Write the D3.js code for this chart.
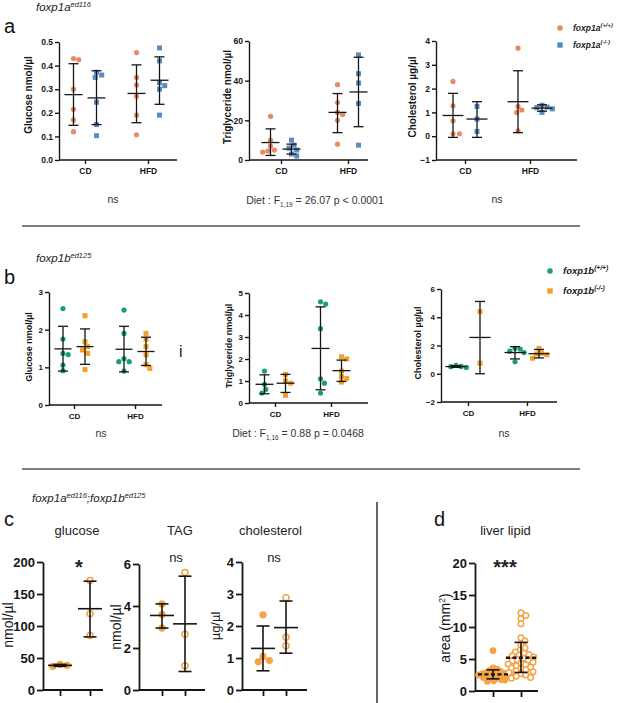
<!DOCTYPE html>
<html>
<head>
<meta charset="utf-8">
<script src="https://cdn.jsdelivr.net/npm/d3@7"></script>
<style>
  body { margin: 0; background: #fff; }
</style>
</head>
<body>
<script>
"use strict";

// ---- data ----
var groups = ["CD", "HFD"];
var pairs = ["ctrl", "mut"];

// a: foxp1a  (values per diet group: [CD], [HFD]); bars = [mean, lower SD, upper SD]
var aGluTicks = [0, 0.1, 0.2, 0.3, 0.4, 0.5];
var aGluWT = [[0.425, 0.43, 0.30, 0.215, 0.17, 0.12], [0.455, 0.35, 0.318, 0.27, 0.19, 0.107]];
var aGluKO = [[0.372, 0.35, 0.36, 0.245, 0.15, 0.103], [0.475, 0.42, 0.328, 0.30, 0.315, 0.19]];
var aGluBarWT = [[0.277, 0.147, 0.408], [0.282, 0.158, 0.403]];
var aGluBarKO = [[0.263, 0.15, 0.378], [0.338, 0.236, 0.437]];

var aTgTicks = [0, 20, 40, 60];
var aTgWT = [[22, 10, 7, 5, 4, 4.5], [38, 29, 24, 23, 20, 8]];
var aTgKO = [[10, 7.5, 6, 5, 3, 2], [53, 43.5, 38.8, 28.5, 7.5]];
var aTgBarWT = [[8.8, 2.3, 15.7], [24, 13.8, 33.5]];
var aTgBarKO = [[5.5, 3, 8], [34.3, 16.8, 51.8]];

var aChTicks = [-1, 0, 1, 2, 3, 4];
var aChWT = [[2.3, 1.28, 0.65, 0.1, 0.1], [3.7, 1.25, 1.0, 1.1, 0.22]];
var aChKO = [[1.25, 0.2, 0.72], [1.3, 1.2, 1.0, 1.15, 1.22]];
var aChBarWT = [[0.87, -0.05, 1.8], [1.45, 0.15, 2.75]];
var aChBarKO = [[0.72, -0.05, 1.45], [1.18, 1.05, 1.32]];

// b: foxp1b
var bGluTicks = [0, 1, 2, 3];
var bGluWT = [[2.56, 1.75, 1.34, 1.37, 1.06, 0.91], [2.52, 1.9, 1.23, 1.15, 1.15, 0.9]];
var bGluKO = [[2.37, 1.68, 1.55, 1.37, 1.46, 0.94], [1.9, 1.75, 1.55, 1.33, 1.07, 0.97]];
var bGluBarWT = [[1.49, 0.9, 2.09], [1.48, 0.88, 2.09]];
var bGluBarKO = [[1.55, 1.08, 2.02], [1.42, 1.05, 1.8]];

var bTgTicks = [0, 1, 2, 3, 4, 5];
var bTgWT = [[1.45, 0.85, 0.62, 0.45], [4.6, 4.5, 3.38, 1.1, 0.9, 0.45]];
var bTgKO = [[1.3, 1.0, 0.9, 0.35], [2.1, 2.0, 1.45, 1.2, 1.12, 0.95]];
var bTgBarWT = [[0.85, 0.42, 1.28], [2.48, 0.6, 4.37]];
var bTgBarKO = [[0.9, 0.48, 1.3], [1.47, 0.98, 1.95]];

var bChTicks = [-2, 0, 2, 4, 6];
var bChWT = [[0.6, 0.5, 0.45, 0.52], [1.8, 1.75, 1.6, 1.5, 0.85]];
var bChKO = [[4.4, 0.75], [1.8, 1.45, 1.4, 1.1, 1.35]];
var bChBarWT = [[0.51, 0.45, 0.57], [1.5, 1.05, 1.92]];
var bChBarKO = [[2.57, 0, 5.12], [1.42, 1.12, 1.72]];

// c: double mutant (ctrl filled, mutant hollow)
var cGluTicks = [0, 50, 100, 150, 200];
var cGlu = [[37, 40, 38.5], [171, 119, 85]];
var cGluBar = [[38.5, 37, 40], [127, 83, 170]];

var cTagTicks = [0, 2, 4, 6];
var cTag = [[4.1, 3.6, 2.95], [5.6, 2.65, 1.15]];
var cTagBar = [[3.55, 2.95, 4.1], [3.15, 0.88, 5.42]];

var cChTicks = [0, 1, 2, 3, 4];
var cCh = [[2.35, 1.05, 0.88, 0.92], [2.88, 1.65, 1.38]];
var cChBar = [[1.3, 0.6, 2.0], [1.95, 1.15, 2.78]];

// d: liver lipid area
var dTicks = [0, 5, 10, 15, 20];
var dCtrl = [6.3, 3.6, 3.4, 3.2, 3.1, 3.0, 2.9, 2.8, 2.7, 2.7, 2.6, 2.5, 2.5, 2.4, 2.3, 2.2, 2.1, 2.0, 1.9, 1.8, 1.7, 1.6, 1.5, 2.4];
var dMut = [12.2, 11.8, 11.3, 10.5, 8.3, 7.8, 7.2, 6.7, 6.4, 6.1, 5.9, 5.7, 5.5, 5.3, 5.1, 4.9, 4.7, 4.5, 4.3, 4.1, 3.9, 3.7, 3.5, 3.3, 3.1, 2.9, 2.7, 2.5, 2.3, 2.1, 2.0, 5.6, 4.8, 4.2, 3.6, 3.0];
var dBar = [[2.6, 1.9, 3.3], [5.2, 2.9, 7.6]];

var aCols = ["#e98a63", "#5b8cc0"];
var bCols = ["#1b9e77", "#f5a127"];
var cCol = "#f5a445";

var FONT = "'Liberation Sans', Arial, Helvetica, sans-serif";
var INK = "#151515";

var svg = d3.select("body").append("svg")
  .attr("width", 617).attr("height", 703)
  .style("font-family", FONT);

// simple beeswarm so dots don't sit on top of each other
function swarm(vals, y, cx, minDist, step) {
  var order = vals.map(function(v, i) { return i; })
    .sort(function(a, b) { return vals[b] - vals[a]; });
  var placed = [];
  order.forEach(function(i) {
    var py = y(vals[i]);
    for (var k = 0; k < 400; k++) {
      var off = k === 0 ? 0 : (k % 2 ? 1 : -1) * Math.ceil(k / 2) * step;
      var px = cx + off;
      var ok = placed.every(function(p) {
        return (p.x - px) * (p.x - px) + (p.y - py) * (p.y - py) >= minDist * minDist;
      });
      if (ok) { placed.push({ x: px, y: py, v: vals[i] }); break; }
    }
  });
  return placed;
}

function styleAxis(ax, fs, lw) {
  ax.attr("font-family", FONT);
  ax.select(".domain").attr("stroke", INK).attr("stroke-width", lw);
  ax.selectAll(".tick line").attr("stroke", INK).attr("stroke-width", lw);
  ax.selectAll(".tick text").attr("font-size", fs).attr("font-weight", "bold").attr("fill", INK);
}

function errBar(g, cx, y, b, mw, cw, lw, dash) {
  g.append("line").attr("x1", cx).attr("x2", cx).attr("y1", y(b[1])).attr("y2", y(b[2]))
    .attr("stroke", INK).attr("stroke-width", lw);
  [b[1], b[2]].forEach(function(v) {
    g.append("line").attr("x1", cx - cw).attr("x2", cx + cw).attr("y1", y(v)).attr("y2", y(v))
      .attr("stroke", INK).attr("stroke-width", lw);
  });
  g.append("line").attr("x1", cx - mw).attr("x2", cx + mw).attr("y1", y(b[0])).attr("y2", y(b[0]))
    .attr("stroke", INK).attr("stroke-width", dash ? lw + 0.8 : lw)
    .attr("stroke-dasharray", dash);
}

function yLabel(x, y, fs, weight) {
  return svg.append("text")
    .attr("transform", "translate(" + x + "," + y + ") rotate(-90)")
    .attr("text-anchor", "middle").attr("font-size", fs).attr("font-weight", weight).attr("fill", INK);
}

// ---- panels a and b ----
function abPanel(p) {
  var g = svg.append("g");
  var y = d3.scaleLinear().domain(d3.extent(p.ticks)).range([p.bot, p.top]);
  var x = d3.scalePoint().domain(groups).range(p.cat);

  var ya = g.append("g").attr("transform", "translate(" + p.x0 + ",0)")
    .call(d3.axisLeft(y).tickValues(p.ticks).tickFormat(p.fmt).tickSize(4).tickSizeOuter(0).tickPadding(2));
  styleAxis(ya, p.fs, 1.4);
  g.append("line").attr("x1", p.x0).attr("x2", p.x1).attr("y1", p.bot).attr("y2", p.bot)
    .attr("stroke", INK).attr("stroke-width", 1.4);
  var xa = g.append("g").attr("transform", "translate(0," + p.bot + ")")
    .call(d3.axisBottom(x).tickSize(4).tickPadding(4));
  xa.select(".domain").remove();
  styleAxis(xa, p.fs, 1.4);

  yLabel(p.lx, p.ly, p.lfs, "bold").text(p.label);

  var sets = [
    { vals: p.wt, bars: p.bwt, side: -1, col: p.cols[0], shape: "c" },
    { vals: p.ko, bars: p.bko, side: 1, col: p.cols[1], shape: "s" }
  ];
  sets.forEach(function(s) {
    groups.forEach(function(grp, i) {
      var cx = x(grp) + s.side * p.off;
      var pts = swarm(s.vals[i], y, cx, 5.2, 1.3);
      if (s.shape === "c") {
        g.append("g").selectAll("circle").data(pts).join("circle")
          .attr("cx", function(d) { return d.x; }).attr("cy", function(d) { return d.y; })
          .attr("r", 2.6).attr("fill", s.col);
      } else {
        g.append("g").selectAll("rect").data(pts).join("rect")
          .attr("x", function(d) { return d.x - 2.5; }).attr("y", function(d) { return d.y - 2.5; })
          .attr("width", 5).attr("height", 5).attr("fill", s.col);
      }
      errBar(g, cx, y, s.bars[i], p.mw, 5, 1.3, null);
    });
  });
}

var f1 = d3.format(".1f"), f0 = d3.format("d");
[
  { wt: aGluWT, ko: aGluKO, bwt: aGluBarWT, bko: aGluBarKO, ticks: aGluTicks, fmt: f1,
    x0: 59, x1: 177, top: 42, bot: 160, cat: [85, 148], off: 11.5, mw: 9,
    label: "Glucose nmol/µl", lx: 32, ly: 95, lfs: 10, fs: 8.5, cols: aCols },
  { wt: aTgWT, ko: aTgKO, bwt: aTgBarWT, bko: aTgBarKO, ticks: aTgTicks, fmt: f0,
    x0: 249, x1: 368, top: 41, bot: 160, cat: [281, 348], off: 10.5, mw: 9,
    label: "Triglyceride nmol/µl", lx: 231, ly: 97, lfs: 10, fs: 8.5, cols: aCols },
  { wt: aChWT, ko: aChKO, bwt: aChBarWT, bko: aChBarKO, ticks: aChTicks, fmt: f0,
    x0: 436, x1: 577, top: 41, bot: 160, cat: [465, 530], off: 12, mw: 10.5,
    label: "Cholesterol µg/µl", lx: 416, ly: 97, lfs: 10, fs: 8.5, cols: aCols },
  { wt: bGluWT, ko: bGluKO, bwt: bGluBarWT, bko: bGluBarKO, ticks: bGluTicks, fmt: f0,
    x0: 49, x1: 162, top: 292, bot: 405, cat: [74, 135], off: 11, mw: 8.5,
    label: "Glucose nmol/µl", lx: 32, ly: 347, lfs: 9, fs: 8, cols: bCols },
  { wt: bTgWT, ko: bTgKO, bwt: bTgBarWT, bko: bTgBarKO, ticks: bTgTicks, fmt: f0,
    x0: 249, x1: 368, top: 293, bot: 403, cat: [275, 331], off: 10.5, mw: 9,
    label: "Triglyceride nmol/µl", lx: 232, ly: 346, lfs: 9, fs: 8, cols: bCols },
  { wt: bChWT, ko: bChKO, bwt: bChBarWT, bko: bChBarKO, ticks: bChTicks, fmt: f0,
    x0: 441, x1: 557, top: 289, bot: 402, cat: [468, 527], off: 12, mw: 10.5,
    label: "Cholesterol µg/µl", lx: 421, ly: 343, lfs: 9, fs: 8, cols: bCols }
].forEach(abPanel);

// ---- panels c and d ----
function cdPanel(p) {
  var g = svg.append("g");
  var y = d3.scaleLinear().domain(d3.extent(p.ticks)).range([p.bot, p.top]);
  var x = d3.scalePoint().domain(pairs).range(p.cat);

  var ya = g.append("g").attr("transform", "translate(" + p.x0 + ",0)")
    .call(d3.axisLeft(y).tickValues(p.ticks).tickFormat(d3.format("d")).tickSize(6).tickSizeOuter(0).tickPadding(2));
  styleAxis(ya, 13, 1.8);
  g.append("line").attr("x1", p.x0).attr("x2", p.x1).attr("y1", p.bot).attr("y2", p.bot)
    .attr("stroke", INK).attr("stroke-width", 1.8);
  var xa = g.append("g").attr("transform", "translate(0," + p.bot + ")")
    .call(d3.axisBottom(x).tickSize(6).tickFormat(""));
  xa.select(".domain").remove();
  styleAxis(xa, 13, 1.8);

  var lab = yLabel(p.lx, p.ly, p.lfs, "normal");
  lab.append("tspan").text(p.label);
  if (p.sup) {
    lab.append("tspan").attr("dy", -5).attr("font-size", p.lfs * 0.6).text(p.sup);
    lab.append("tspan").attr("dy", 5).text(")");
  }

  svg.append("text").attr("x", (p.x0 + p.x1) / 2 + p.tdx).attr("y", 535)
    .attr("text-anchor", "middle").attr("font-size", 13).attr("fill", "#222").text(p.title);
  svg.append("text").attr("x", p.sx).attr("y", p.sig === "ns" ? 562 : 574)
    .attr("text-anchor", "middle").attr("font-size", p.sig === "ns" ? 13 : 20)
    .attr("font-weight", p.sig === "ns" ? "normal" : "bold").attr("fill", "#222").text(p.sig);

  [0, 1].forEach(function(i) {
    var cx = x(pairs[i]);
    var pts = swarm(p.vals[i], y, cx, p.md[i], 0.8);
    g.append("g").selectAll("circle").data(pts).join("circle")
      .attr("cx", function(d) { return d.x; }).attr("cy", function(d) { return d.y; })
      .attr("r", i === 0 ? p.r : p.r - 0.6)
      .attr("fill", i === 0 ? cCol : "#fff")
      .attr("stroke", cCol).attr("stroke-width", i === 0 ? 0 : 1.5);
  });
  [0, 1].forEach(function(i) {
    errBar(g, x(pairs[i]), y, p.bars[i], p.mw, 6.5, 1.6, p.dash);
  });
}

[
  { vals: cGlu, bars: cGluBar, ticks: cGluTicks, x0: 43, x1: 103, top: 562, bot: 690, cat: [60, 90],
    title: "glucose", tdx: 4, sig: "*", sx: 79, label: "nmol/µl", lx: 13, ly: 625, lfs: 14, r: 3.6, md: [7, 7], mw: 12, dash: null },
  { vals: cTag, bars: cTagBar, ticks: cTagTicks, x0: 139, x1: 205, top: 564, bot: 690, cat: [162, 185],
    title: "TAG", tdx: 8, sig: "ns", sx: 176, label: "nmol/µl", lx: 121, ly: 627, lfs: 14, r: 3.6, md: [7, 7], mw: 12, dash: null },
  { vals: cCh, bars: cChBar, ticks: cChTicks, x0: 242, x1: 307, top: 562, bot: 690, cat: [263, 286],
    title: "cholesterol", tdx: -4, sig: "ns", sx: 274, label: "µg/µl", lx: 220, ly: 626, lfs: 13, r: 3.6, md: [7, 7], mw: 12, dash: null },
  { vals: [dCtrl, dMut], bars: dBar, ticks: dTicks, x0: 475, x1: 538, top: 563, bot: 691, cat: [493, 521],
    title: "liver lipid", tdx: -1, sig: "***", sx: 505, label: "area (mm", sup: "2", lx: 450, ly: 628, lfs: 14, r: 3.4, md: [3.6, 4.8], mw: 15, dash: "4,2.5" }
].forEach(cdPanel);

// ---- headings, letters, legends, stats text ----
function heading(x, y, parts) {
  var t = svg.append("text").attr("x", x).attr("y", y).attr("font-size", 11.5)
    .attr("font-style", "italic").attr("fill", "#222");
  parts.forEach(function(pt, i) {
    if (i % 2 === 0) t.append("tspan").attr("dy", i === 0 ? 0 : 4).text(pt);
    else t.append("tspan").attr("dy", -4).attr("font-size", 7.5).text(pt);
  });
}
heading(36, 11, ["foxp1a", "ed116"]);
heading(36, 262, ["foxp1b", "ed125"]);
heading(32, 502, ["foxp1a", "ed116", ";foxp1b", "ed125"]);

[["a", 4, 33], ["b", 4, 284], ["c", 4, 526], ["d", 434, 526]].forEach(function(l) {
  svg.append("text").attr("x", l[1]).attr("y", l[2]).attr("font-size", 20).attr("fill", "#111").text(l[0]);
});
svg.append("text").attr("x", 179).attr("y", 357).attr("font-size", 16).attr("fill", "#222").text("i");

function legend(x, y1, y2, fs, gene, cols) {
  svg.append("circle").attr("cx", x).attr("cy", y1).attr("r", 2.8).attr("fill", cols[0]);
  svg.append("rect").attr("x", x - 2.7).attr("y", y2 - 2.7).attr("width", 5.4).attr("height", 5.4).attr("fill", cols[1]);
  [[y1, "(+/+)"], [y2, "(-/-)"]].forEach(function(r) {
    var t = svg.append("text").attr("x", x + 13).attr("y", r[0] + 3).attr("font-size", fs)
      .attr("font-weight", "bold").attr("font-style", "italic").attr("fill", "#222");
    t.append("tspan").text(gene);
    t.append("tspan").attr("dy", -4).attr("font-size", fs * 0.7).text(r[1]);
  });
}
legend(560, 28, 45, 8.5, "foxp1a", aCols);
legend(550, 271, 291, 9.5, "foxp1b", bCols);

function note(x, y, s) {
  svg.append("text").attr("x", x).attr("y", y).attr("text-anchor", "middle")
    .attr("font-size", 10.5).attr("fill", "#333").text(s);
}
function diet(x, y, sub, rest) {
  var t = svg.append("text").attr("x", x).attr("y", y).attr("text-anchor", "middle")
    .attr("font-size", 10.5).attr("fill", "#333");
  t.append("tspan").text("Diet : F");
  t.append("tspan").attr("dy", 3).attr("font-size", 6.5).text(sub);
  t.append("tspan").attr("dy", -3).text(rest);
}
note(113, 203, "ns");
diet(315, 204, "1,19", " = 26.07 p < 0.0001");
note(497, 203, "ns");
note(101, 437, "ns");
diet(298, 437, "1,16", " = 0.88 p = 0.0468");
note(504, 437, "ns");

// separators
[226, 469].forEach(function(yy) {
  svg.append("line").attr("x1", 22).attr("x2", 580).attr("y1", yy).attr("y2", yy)
    .attr("stroke", "#555").attr("stroke-width", 1.6);
});
svg.append("line").attr("x1", 377).attr("x2", 377).attr("y1", 502).attr("y2", 703)
  .attr("stroke", "#333").attr("stroke-width", 1.5);
</script>
</body>
</html>
